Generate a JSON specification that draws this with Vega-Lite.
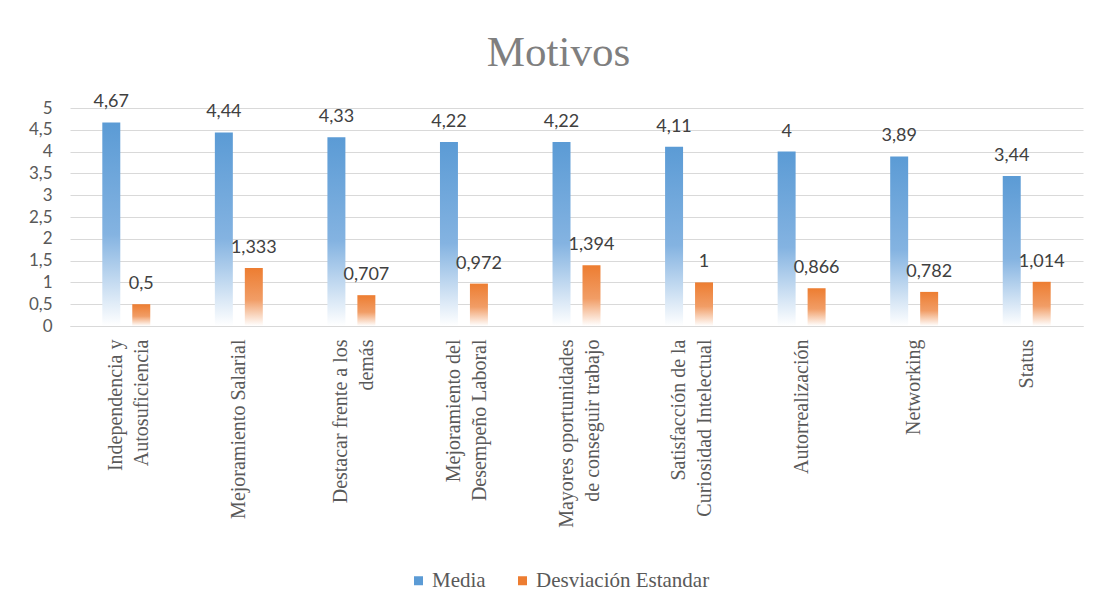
{
  "$schema": "https://vega.github.io/schema/vega-lite/v6.json",
  "autosize": "none",
  "width": 1013,
  "height": 218,
  "padding": {"left": 70, "top": 108, "right": 14, "bottom": 284},
  "background": "white",
  "title": {
    "text": "Motivos",
    "font": "Liberation Serif",
    "fontSize": 43,
    "fontWeight": "normal",
    "color": "#7F7F7F",
    "anchor": "middle",
    "frame": "group",
    "offset": 18,
    "dx": -18
  },
  "data": {
    "values": [
      {"Motivo": "Independencia y Autosuficiencia", "Serie": "Media", "Valor": 4.67},
      {"Motivo": "Independencia y Autosuficiencia", "Serie": "Desviación Estandar", "Valor": 0.5},
      {"Motivo": "Mejoramiento Salarial", "Serie": "Media", "Valor": 4.44},
      {"Motivo": "Mejoramiento Salarial", "Serie": "Desviación Estandar", "Valor": 1.333},
      {"Motivo": "Destacar frente a los demás", "Serie": "Media", "Valor": 4.33},
      {"Motivo": "Destacar frente a los demás", "Serie": "Desviación Estandar", "Valor": 0.707},
      {"Motivo": "Mejoramiento del Desempeño Laboral", "Serie": "Media", "Valor": 4.22},
      {"Motivo": "Mejoramiento del Desempeño Laboral", "Serie": "Desviación Estandar", "Valor": 0.972},
      {"Motivo": "Mayores oportunidades de conseguir trabajo", "Serie": "Media", "Valor": 4.22},
      {"Motivo": "Mayores oportunidades de conseguir trabajo", "Serie": "Desviación Estandar", "Valor": 1.394},
      {"Motivo": "Satisfacción de la Curiosidad Intelectual", "Serie": "Media", "Valor": 4.11},
      {"Motivo": "Satisfacción de la Curiosidad Intelectual", "Serie": "Desviación Estandar", "Valor": 1},
      {"Motivo": "Autorrealización", "Serie": "Media", "Valor": 4},
      {"Motivo": "Autorrealización", "Serie": "Desviación Estandar", "Valor": 0.866},
      {"Motivo": "Networking", "Serie": "Media", "Valor": 3.89},
      {"Motivo": "Networking", "Serie": "Desviación Estandar", "Valor": 0.782},
      {"Motivo": "Status", "Serie": "Media", "Valor": 3.44},
      {"Motivo": "Status", "Serie": "Desviación Estandar", "Valor": 1.014}
    ]
  },
  "encoding": {
    "x": {
      "field": "Motivo",
      "type": "nominal",
      "sort": null,
      "title": null,
      "scale": {"paddingInner": 0.574, "paddingOuter": 0.287},
      "axis": {
        "labelAngle": -90,
        "labelFont": "Liberation Serif",
        "labelFontSize": 20,
        "labelColor": "#595959",
        "labelLineHeight": 26,
        "labelPadding": 13,
        "labelLimit": 400,
        "labelOffset": {
          "condition": {
            "test": "datum.value != 'Mejoramiento Salarial' && datum.value != 'Autorrealización' && datum.value != 'Networking' && datum.value != 'Status'",
            "value": -10
          },
          "value": 0
        },
        "ticks": false,
        "tickSize": 0,
        "domainColor": "#D9D9D9",
        "domainWidth": 1,
        "grid": false,
        "labelExpr": "datum.label == 'Independencia y Autosuficiencia' ? ['Independencia y', 'Autosuficiencia'] : datum.label == 'Destacar frente a los demás' ? ['Destacar frente a los', 'demás'] : datum.label == 'Mejoramiento del Desempeño Laboral' ? ['Mejoramiento del', 'Desempeño Laboral'] : datum.label == 'Mayores oportunidades de conseguir trabajo' ? ['Mayores oportunidades', 'de conseguir trabajo'] : datum.label == 'Satisfacción de la Curiosidad Intelectual' ? ['Satisfacción de la', 'Curiosidad Intelectual'] : datum.label"
      }
    },
    "xOffset": {
      "field": "Serie",
      "type": "nominal",
      "sort": ["Media", "Desviación Estandar"],
      "scale": {"paddingInner": 0.4, "paddingOuter": 0}
    },
    "y": {
      "field": "Valor",
      "type": "quantitative",
      "title": null,
      "scale": {"domain": [0, 5], "nice": false},
      "axis": {
        "values": [0, 0.5, 1, 1.5, 2, 2.5, 3, 3.5, 4, 4.5, 5],
        "format": "~g",
        "labelFont": "Lato",
        "labelFontSize": 17,
        "labelColor": "#595959",
        "labelPadding": 18,
        "ticks": false,
        "tickSize": 0,
        "domain": false,
        "gridColor": "#D9D9D9",
        "gridWidth": 1
      }
    }
  },
  "layer": [
    {
      "transform": [{"filter": "datum.Serie == 'Media'"}],
      "mark": {
        "type": "bar",
        "fill": {
          "gradient": "linear",
          "x1": 0, "y1": 0, "x2": 0, "y2": 1,
          "stops": [
            {"offset": 0, "color": "#5B9BD5"},
            {"offset": 0.55, "color": "#84B3E1"},
            {"offset": 1, "color": "#FFFFFF"}
          ]
        }
      }
    },
    {
      "transform": [{"filter": "datum.Serie == 'Desviación Estandar'"}],
      "mark": {
        "type": "bar",
        "fill": {
          "gradient": "linear",
          "x1": 0, "y1": 0, "x2": 0, "y2": 1,
          "stops": [
            {"offset": 0, "color": "#ED7D31"},
            {"offset": 0.55, "color": "#F19D66"},
            {"offset": 1, "color": "#FFFFFF"}
          ]
        }
      }
    },
    {
      "mark": {"type": "bar", "opacity": 0},
      "encoding": {
        "color": {
          "field": "Serie",
          "type": "nominal",
          "sort": ["Media", "Desviación Estandar"],
          "scale": {"domain": ["Media", "Desviación Estandar"], "range": ["#5B9BD5", "#ED7D31"]},
          "legend": {
            "title": null,
            "orient": "none",
            "direction": "horizontal",
            "legendX": 338,
            "legendY": 462,
            "symbolType": "square",
            "symbolSize": 81,
            "symbolOpacity": 1,
            "symbolStrokeWidth": 0,
            "labelFont": "Liberation Serif",
            "labelFontSize": 21,
            "labelColor": "#595959",
            "labelOffset": 3,
            "labelLimit": 400,
            "columnPadding": 26
          }
        }
      }
    },
    {
      "mark": {
        "type": "text",
        "baseline": "alphabetic",
        "dy": -15,
        "font": "Lato",
        "fontSize": 18,
        "color": "#404040"
      },
      "encoding": {
        "text": {"field": "Valor", "type": "quantitative", "format": "~g"}
      }
    }
  ],
  "config": {
    "view": {"stroke": null},
    "locale": {
      "number": {"decimal": ",", "thousands": ".", "grouping": [3], "currency": ["", " €"]}
    }
  }
}
